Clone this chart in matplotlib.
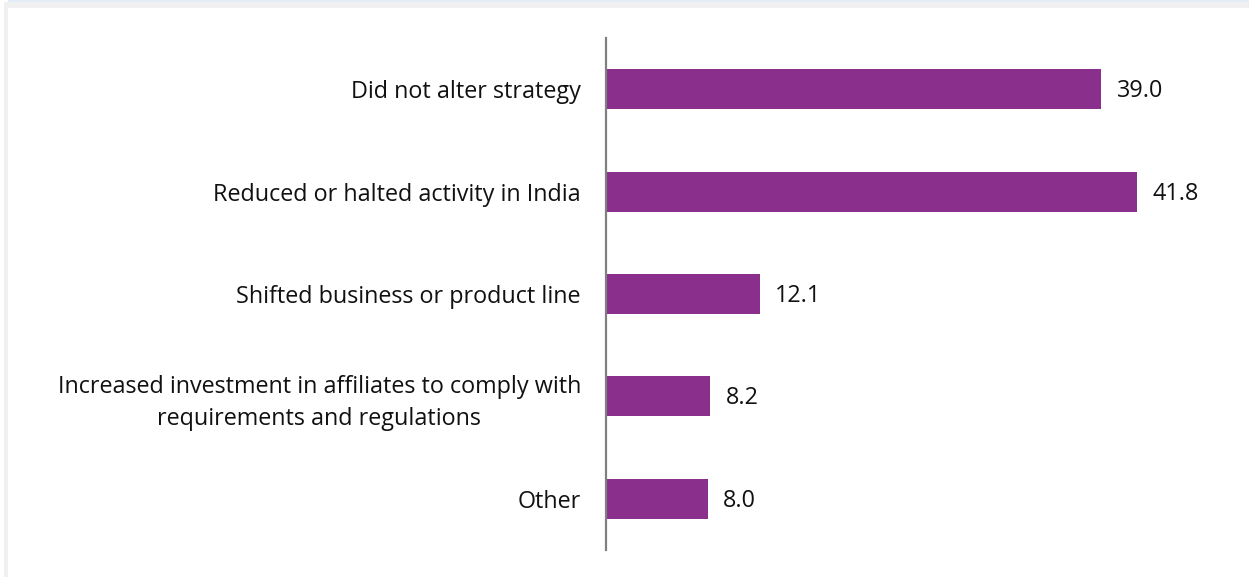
import matplotlib
matplotlib.use("Agg")
import matplotlib.pyplot as plt
from matplotlib.patches import Rectangle

# survey responses, top to bottom
categories = [
    "Did not alter strategy",
    "Reduced or halted activity in India",
    "Shifted business or product line",
    "Increased investment in affiliates to comply with\nrequirements and regulations",
    "Other",
]
values = [39.0, 41.8, 12.1, 8.2, 8.0]

bar_color = "#8B2F8C"

plt.rcParams["font.family"] = ["Open Sans", "DejaVu Sans"]

fig = plt.figure(figsize=(12.49, 5.77), dpi=100)
fig.patch.set_facecolor("white")

# frame strips around the panel
W, H = 1249, 577
fig.patches.append(Rectangle((8 / W, 1 - 2 / H), 1, 2 / H, transform=fig.transFigure,
                             facecolor="#E3ECF7", edgecolor="none"))
fig.patches.append(Rectangle((4 / W, 1 - 8 / H), 1, 6 / H, transform=fig.transFigure,
                             facecolor="#F0F0F0", edgecolor="none"))
fig.patches.append(Rectangle((4 / W, 0), 4 / W, 1 - 8 / H, transform=fig.transFigure,
                             facecolor="#F0F0F0", edgecolor="none"))

ax = fig.add_axes([606 / W, 27 / H, 635 / W, 512 / H])
pos = list(range(len(categories)))
ax.barh(pos, values, height=0.39, color=bar_color, edgecolor="none")
ax.set_ylim(len(categories) - 0.5, -0.5)
ax.set_xlim(0, 50)

for y, v in zip(pos, values):
    ax.text(v + 1.2, y + 0.02, f"{v:.1f}", va="center", ha="left", fontsize=16.8, color="#111111")

ax.set_yticks(pos)
ax.set_yticklabels(categories, fontsize=16.8, color="#111111", ha="right",
                   multialignment="center", linespacing=1.42)
ax.tick_params(axis="y", length=0, pad=18)
ax.set_xticks([])
for side in ["top", "right", "bottom"]:
    ax.spines[side].set_visible(False)
ax.spines["left"].set_color("#808080")
ax.spines["left"].set_linewidth(1.6)

fig.savefig("out.png", dpi=100)
